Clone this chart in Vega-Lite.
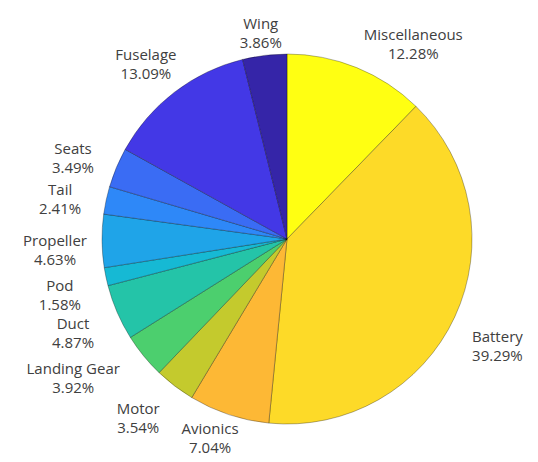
{
  "$schema": "https://vega.github.io/schema/vega-lite/v6.json",
  "autosize": "none",
  "width": 500,
  "height": 436,
  "padding": {"left": 37, "top": 21, "right": 1, "bottom": 5},
  "background": "white",
  "config": {"view": {"stroke": null}, "text": {"font": "Open Sans", "fontSize": 15, "color": "#404040"}},
  "data": {
    "values": [
      {"idx": 1, "part": "Miscellaneous", "share": 0.1228},
      {"idx": 2, "part": "Battery", "share": 0.3929},
      {"idx": 3, "part": "Avionics", "share": 0.0704},
      {"idx": 4, "part": "Motor", "share": 0.0354},
      {"idx": 5, "part": "Landing Gear", "share": 0.0392},
      {"idx": 6, "part": "Duct", "share": 0.0487},
      {"idx": 7, "part": "Pod", "share": 0.0158},
      {"idx": 8, "part": "Propeller", "share": 0.0463},
      {"idx": 9, "part": "Tail", "share": 0.0241},
      {"idx": 10, "part": "Seats", "share": 0.0349},
      {"idx": 11, "part": "Fuselage", "share": 0.1309},
      {"idx": 12, "part": "Wing", "share": 0.0386}
    ]
  },
  "encoding": {
    "theta": {"field": "share", "type": "quantitative", "stack": true},
    "order": {"field": "idx", "type": "quantitative"}
  },
  "layer": [
    {
      "mark": {"type": "arc", "outerRadius": 185, "stroke": "#000000", "strokeOpacity": 0.3, "strokeWidth": 1},
      "encoding": {
        "color": {
          "field": "part",
          "type": "nominal",
          "legend": null,
          "scale": {
            "domain": ["Miscellaneous", "Battery", "Avionics", "Motor", "Landing Gear", "Duct", "Pod", "Propeller", "Tail", "Seats", "Fuselage", "Wing"],
            "range": ["#FFFF12", "#FDDA28", "#FDB835", "#C4CA2D", "#4CCF6E", "#24C4A8", "#16B9D4", "#1FA4E8", "#2E88F8", "#3A6CF4", "#4338E6", "#3525A8"]
          }
        }
      }
    },
    {
      "mark": {"type": "text", "radius": 232, "dy": 0},
      "encoding": {
        "text": {"field": "part", "type": "nominal"},
        "opacity": {"condition": {"test": "indexof(['Wing','Avionics','Landing Gear','Miscellaneous','Motor','Duct'], datum.part) >= 0", "value": 0}, "value": 1}
      }
    },
    {
      "mark": {"type": "text", "radius": 232, "dy": 19},
      "encoding": {
        "text": {"field": "share", "type": "quantitative", "format": ".2%"},
        "opacity": {"condition": {"test": "indexof(['Wing','Avionics','Landing Gear','Miscellaneous','Motor','Duct'], datum.part) >= 0", "value": 0}, "value": 1}
      }
    },
    {
      "mark": {"type": "text", "radius": 217, "dy": 0},
      "encoding": {
        "text": {"field": "part", "type": "nominal"},
        "opacity": {"condition": {"test": "datum.part === 'Wing'", "value": 1}, "value": 0}
      }
    },
    {
      "mark": {"type": "text", "radius": 217, "dy": 19},
      "encoding": {
        "text": {"field": "share", "type": "quantitative", "format": ".2%"},
        "opacity": {"condition": {"test": "datum.part === 'Wing'", "value": 1}, "value": 0}
      }
    },
    {
      "mark": {"type": "text", "radius": 200, "dx": -14, "dy": 0},
      "encoding": {
        "text": {"field": "part", "type": "nominal"},
        "opacity": {"condition": {"test": "datum.part === 'Avionics'", "value": 1}, "value": 0}
      }
    },
    {
      "mark": {"type": "text", "radius": 200, "dx": -14, "dy": 19},
      "encoding": {
        "text": {"field": "share", "type": "quantitative", "format": ".2%"},
        "opacity": {"condition": {"test": "datum.part === 'Avionics'", "value": 1}, "value": 0}
      }
    },
    {
      "mark": {"type": "text", "radius": 232, "dx": -34, "dy": -17},
      "encoding": {
        "text": {"field": "part", "type": "nominal"},
        "opacity": {"condition": {"test": "datum.part === 'Landing Gear'", "value": 1}, "value": 0}
      }
    },
    {
      "mark": {"type": "text", "radius": 232, "dx": -34, "dy": 2},
      "encoding": {
        "text": {"field": "share", "type": "quantitative", "format": ".2%"},
        "opacity": {"condition": {"test": "datum.part === 'Landing Gear'", "value": 1}, "value": 0}
      }
    },
    {
      "mark": {"type": "text", "radius": 232, "dx": -1, "dy": -7},
      "encoding": {
        "text": {"field": "part", "type": "nominal"},
        "opacity": {"condition": {"test": "datum.part === 'Duct'", "value": 1}, "value": 0}
      }
    },
    {
      "mark": {"type": "text", "radius": 232, "dx": -1, "dy": 12},
      "encoding": {
        "text": {"field": "share", "type": "quantitative", "format": ".2%"},
        "opacity": {"condition": {"test": "datum.part === 'Duct'", "value": 1}, "value": 0}
      }
    },
    {
      "mark": {"type": "text", "radius": 232, "dx": 39, "dy": 11},
      "encoding": {
        "text": {"field": "part", "type": "nominal"},
        "opacity": {"condition": {"test": "datum.part === 'Miscellaneous'", "value": 1}, "value": 0}
      }
    },
    {
      "mark": {"type": "text", "radius": 232, "dx": 39, "dy": 30},
      "encoding": {
        "text": {"field": "share", "type": "quantitative", "format": ".2%"},
        "opacity": {"condition": {"test": "datum.part === 'Miscellaneous'", "value": 1}, "value": 0}
      }
    },
    {
      "mark": {"type": "text", "radius": 232, "dx": -8, "dy": -14},
      "encoding": {
        "text": {"field": "part", "type": "nominal"},
        "opacity": {"condition": {"test": "datum.part === 'Motor'", "value": 1}, "value": 0}
      }
    },
    {
      "mark": {"type": "text", "radius": 232, "dx": -8, "dy": 5},
      "encoding": {
        "text": {"field": "share", "type": "quantitative", "format": ".2%"},
        "opacity": {"condition": {"test": "datum.part === 'Motor'", "value": 1}, "value": 0}
      }
    }
  ]
}
